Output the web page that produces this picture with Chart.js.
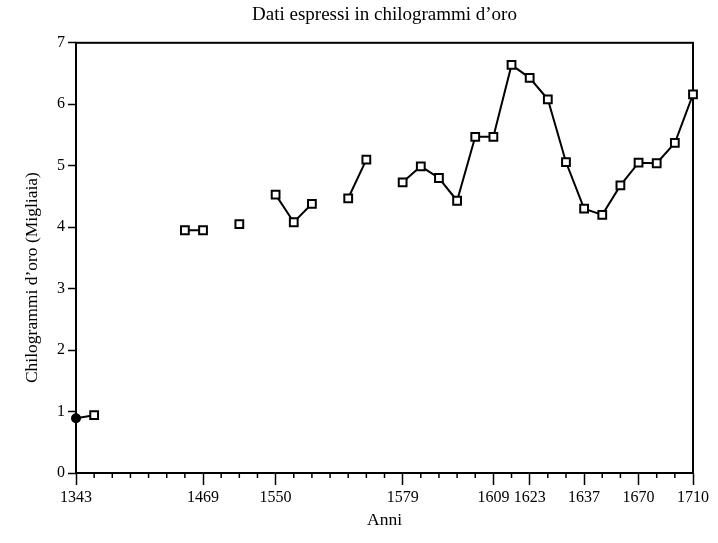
<!DOCTYPE html>
<html>
<head>
<meta charset="utf-8">
<script src="https://cdn.jsdelivr.net/npm/chart.js@4"></script>
<style>
body { margin: 0; background: #fff; }
#box { width: 718px; height: 543px; }
</style>
</head>
<body>
<div id="box"><canvas id="oro-chart"></canvas></div>
<script>
// one slot per rilevazione, only some years are written under the axis
const anni = [
    '1343', '', '', '', '', '', '', '1469', '', '', '',
    '1550', '', '', '', '', '', '', '1579', '', '', '', '',
    '1609', '', '1623', '', '', '1637', '', '', '1670', '', '', '1710'
]

// migliaia di chilogrammi, null = nessun dato
const valori = [
    0.89, 0.94, null, null, null, null, 3.95, 3.95, null, 4.05, null,
    4.53, 4.08, 4.38, null, 4.47, 5.10, null, 4.73, 4.99, 4.80, 4.43, 5.47,
    5.47, 6.64, 6.43, 6.08, 5.06, 4.30, 4.20, 4.68, 5.05, 5.04, 5.37, 6.16
]

const titolo = 'Dati espressi in chilogrammi d’oro'
// the printed axis title sits a bit below the middle, the trailing spaces push it down
const titolo_y = 'Chilogrammi d’oro (Migliaia)' + '\u00a0'.repeat(9)
const titolo_x = 'Anni'

const serif = "'Liberation Serif', 'DejaVu Serif', serif"


// box round the plot + the short ticks of the unlabeled years
const cornice = {
    id: 'cornice',
    beforeDatasetsDraw(chart) {
        const ctx = chart.ctx
        const a = chart.chartArea
        const x = chart.scales.x
        ctx.save()
        ctx.strokeStyle = '#000'
        ctx.lineWidth = 2
        ctx.strokeRect(a.left, a.top, a.right - a.left, a.bottom - a.top)

        ctx.lineWidth = 1.5
        for (let i = 0; i < anni.length; i++) {
            if (anni[i] !== '') continue
            let px = x.getPixelForTick(i)
            ctx.beginPath()
            ctx.moveTo(px, a.bottom)
            ctx.lineTo(px, a.bottom + 5)
            ctx.stroke()
        }
        ctx.restore()
    }
}


let ctx = document.getElementById('oro-chart')

let data = {
    labels: anni,
    datasets: [{
        data: valori,
        borderColor: '#000',
        borderWidth: 2,
        tension: 0,
        spanGaps: false,
        clip: false,
        pointStyle: valori.map((v, i) => i === 0 ? 'circle' : 'rect'),
        pointRadius: valori.map((v, i) => i === 0 ? 4 : 5.5),
        pointBackgroundColor: valori.map((v, i) => i === 0 ? '#000' : '#fff'),
        pointBorderColor: '#000',
        pointBorderWidth: 2
    }]
}

let options = {
    maintainAspectRatio: false,
    animation: false,
    layout: {
        padding: { left: 0, right: 25, top: 0, bottom: 0 }
    },
    plugins: {
        legend: { display: false },
        tooltip: { enabled: false },
        title: {
            display: true,
            text: titolo,
            fullSize: false,
            color: '#000',
            font: { family: serif, size: 19, weight: 'normal' },
            padding: { top: 4, bottom: 16 }
        }
    },
    scales: {
        x: {
            type: 'category',
            offset: false,
            border: { display: false },
            grid: {
                drawOnChartArea: false,
                tickLength: 12,
                tickWidth: 1.5,
                tickColor: c => anni[c.index] ? '#000' : 'rgba(0,0,0,0)'
            },
            ticks: {
                autoSkip: false,
                maxRotation: 0,
                padding: 3,
                color: '#000',
                font: { family: serif, size: 16 },
                callback: (v, i) => anni[i]
            },
            title: {
                display: true,
                text: titolo_x,
                color: '#000',
                font: { family: serif, size: 17.5 },
                padding: { top: 0, bottom: 12 }
            },
            afterFit: s => { s.height = 70 }
        },
        y: {
            min: 0,
            max: 7,
            border: { display: false },
            grid: {
                drawOnChartArea: false,
                tickLength: 8,
                tickWidth: 1.5,
                tickColor: '#000'
            },
            ticks: {
                stepSize: 1,
                padding: 3,
                color: '#000',
                font: { family: serif, size: 16 }
            },
            title: {
                display: true,
                text: titolo_y,
                color: '#000',
                font: { family: serif, size: 17.5 },
                padding: { top: 22, bottom: 0 }
            },
            afterFit: s => { s.width = 76 }
        }
    }
}

let oro_chart = new Chart(ctx, {
    type: 'line',
    data: data,
    options: options,
    plugins: [cornice]
})
</script>
</body>
</html>
